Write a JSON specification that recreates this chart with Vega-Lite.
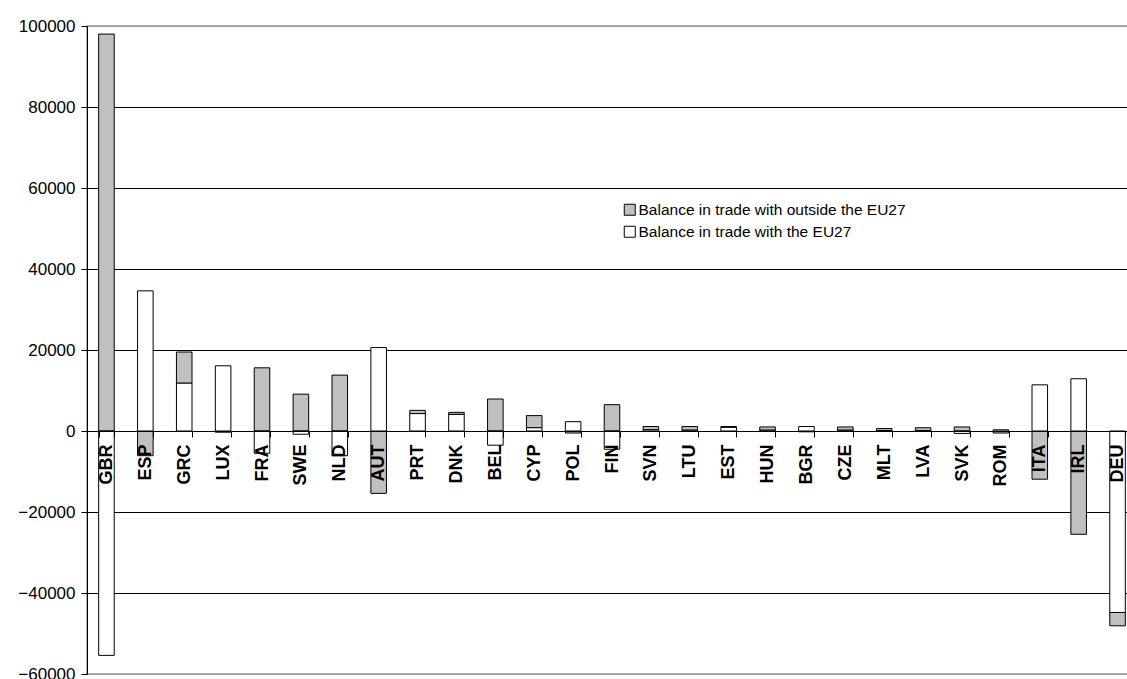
{
  "$schema": "https://vega.github.io/schema/vega-lite/v6.json",
  "autosize": {"type": "none"},
  "padding": {"left": 87, "top": 26, "right": -10, "bottom": 5},
  "width": 1050,
  "height": 648,
  "background": "#ffffff",
  "config": {
    "font": "Liberation Sans",
    "view": {"stroke": "#999999", "strokeWidth": 1.5}
  },
  "data": {
    "values": [
      {"country": "GBR", "series": "Balance in trade with outside the EU27", "value": 98000},
      {"country": "GBR", "series": "Balance in trade with the EU27", "value": -55400},
      {"country": "ESP", "series": "Balance in trade with outside the EU27", "value": -6100},
      {"country": "ESP", "series": "Balance in trade with the EU27", "value": 34600},
      {"country": "GRC", "series": "Balance in trade with outside the EU27", "value": 7700},
      {"country": "GRC", "series": "Balance in trade with the EU27", "value": 11800},
      {"country": "LUX", "series": "Balance in trade with outside the EU27", "value": -300},
      {"country": "LUX", "series": "Balance in trade with the EU27", "value": 16100},
      {"country": "FRA", "series": "Balance in trade with outside the EU27", "value": 15600},
      {"country": "FRA", "series": "Balance in trade with the EU27", "value": -5500},
      {"country": "SWE", "series": "Balance in trade with outside the EU27", "value": 9100},
      {"country": "SWE", "series": "Balance in trade with the EU27", "value": -800},
      {"country": "NLD", "series": "Balance in trade with outside the EU27", "value": 13800},
      {"country": "NLD", "series": "Balance in trade with the EU27", "value": -6100},
      {"country": "AUT", "series": "Balance in trade with outside the EU27", "value": -15400},
      {"country": "AUT", "series": "Balance in trade with the EU27", "value": 20600},
      {"country": "PRT", "series": "Balance in trade with outside the EU27", "value": 800},
      {"country": "PRT", "series": "Balance in trade with the EU27", "value": 4300},
      {"country": "DNK", "series": "Balance in trade with outside the EU27", "value": 500},
      {"country": "DNK", "series": "Balance in trade with the EU27", "value": 4100},
      {"country": "BEL", "series": "Balance in trade with outside the EU27", "value": 7900},
      {"country": "BEL", "series": "Balance in trade with the EU27", "value": -3500},
      {"country": "CYP", "series": "Balance in trade with outside the EU27", "value": 3000},
      {"country": "CYP", "series": "Balance in trade with the EU27", "value": 800},
      {"country": "POL", "series": "Balance in trade with outside the EU27", "value": -500},
      {"country": "POL", "series": "Balance in trade with the EU27", "value": 2300},
      {"country": "FIN", "series": "Balance in trade with outside the EU27", "value": 6500},
      {"country": "FIN", "series": "Balance in trade with the EU27", "value": -4500},
      {"country": "SVN", "series": "Balance in trade with outside the EU27", "value": 800},
      {"country": "SVN", "series": "Balance in trade with the EU27", "value": 300},
      {"country": "LTU", "series": "Balance in trade with outside the EU27", "value": 900},
      {"country": "LTU", "series": "Balance in trade with the EU27", "value": 200},
      {"country": "EST", "series": "Balance in trade with outside the EU27", "value": 200},
      {"country": "EST", "series": "Balance in trade with the EU27", "value": 900},
      {"country": "HUN", "series": "Balance in trade with outside the EU27", "value": 800},
      {"country": "HUN", "series": "Balance in trade with the EU27", "value": 200},
      {"country": "BGR", "series": "Balance in trade with outside the EU27", "value": -200},
      {"country": "BGR", "series": "Balance in trade with the EU27", "value": 1100},
      {"country": "CZE", "series": "Balance in trade with outside the EU27", "value": 800},
      {"country": "CZE", "series": "Balance in trade with the EU27", "value": 200},
      {"country": "MLT", "series": "Balance in trade with outside the EU27", "value": 500},
      {"country": "MLT", "series": "Balance in trade with the EU27", "value": 100},
      {"country": "LVA", "series": "Balance in trade with outside the EU27", "value": 700},
      {"country": "LVA", "series": "Balance in trade with the EU27", "value": 100},
      {"country": "SVK", "series": "Balance in trade with outside the EU27", "value": 1000},
      {"country": "SVK", "series": "Balance in trade with the EU27", "value": -600},
      {"country": "ROM", "series": "Balance in trade with outside the EU27", "value": -500},
      {"country": "ROM", "series": "Balance in trade with the EU27", "value": 300},
      {"country": "ITA", "series": "Balance in trade with outside the EU27", "value": -11900},
      {"country": "ITA", "series": "Balance in trade with the EU27", "value": 11400},
      {"country": "IRL", "series": "Balance in trade with outside the EU27", "value": -25500},
      {"country": "IRL", "series": "Balance in trade with the EU27", "value": 12900},
      {"country": "DEU", "series": "Balance in trade with outside the EU27", "value": -3300},
      {"country": "DEU", "series": "Balance in trade with the EU27", "value": -44800}
    ]
  },
  "mark": {"type": "bar", "stroke": "#000000", "strokeWidth": 1},
  "encoding": {
    "x": {
      "field": "country",
      "type": "nominal",
      "sort": null,
      "scale": {"paddingInner": 0.6, "paddingOuter": 0.3},
      "axis": {
        "title": null,
        "offset": -243,
        "zindex": 1,
        "domainColor": "#000000",
        "domainWidth": 1,
        "tickBand": "extent",
        "tickColor": "#000000",
        "tickSize": 6,
        "labelAngle": 270,
        "labelFont": "Liberation Sans",
        "labelFontSize": 18,
        "labelFontWeight": "bold",
        "labelColor": "#000000",
        "labelPadding": 7
      }
    },
    "y": {
      "field": "value",
      "type": "quantitative",
      "stack": "zero",
      "scale": {"domain": [-60000, 100000], "nice": false, "zero": false},
      "axis": {
        "title": null,
        "values": [-60000, -40000, -20000, 0, 20000, 40000, 60000, 80000, 100000],
        "format": "d",
        "domainColor": "#000000",
        "domainWidth": 1,
        "tickColor": "#000000",
        "tickSize": 6,
        "labelFont": "Liberation Sans",
        "labelFontSize": 17,
        "labelColor": "#000000",
        "labelPadding": 6,
        "gridColor": {
          "condition": {"test": "datum.value === 100000 || datum.value === -60000", "value": "#999999"},
          "value": "#000000"
        },
        "gridWidth": 1
      }
    },
    "color": {
      "field": "series",
      "type": "nominal",
      "scale": {
        "domain": ["Balance in trade with outside the EU27", "Balance in trade with the EU27"],
        "range": ["#c0c0c0", "#ffffff"]
      },
      "legend": {
        "title": null,
        "orient": "none",
        "legendX": 535,
        "legendY": 176,
        "symbolType": "square",
        "symbolSize": 121,
        "symbolStrokeColor": "#000000",
        "symbolStrokeWidth": 1,
        "symbolOpacity": 1,
        "labelFont": "Liberation Sans",
        "labelFontSize": 15.5,
        "labelLimit": 0,
        "labelColor": "#000000",
        "labelOffset": 1,
        "rowPadding": 5
      }
    },
    "order": {"field": "series", "sort": "descending"}
  }
}
